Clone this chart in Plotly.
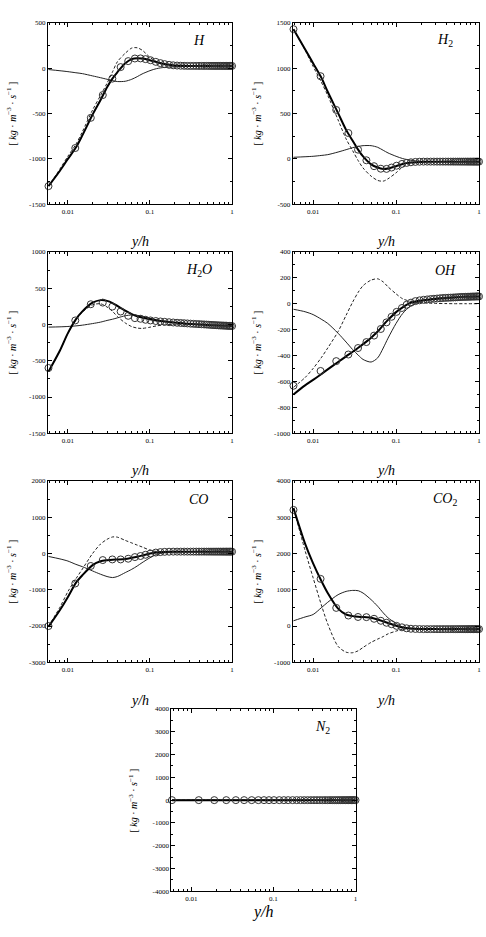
import plotly.graph_objects as go

# ---------------- data ----------------
lx = [0.0058, 0.008, 0.01, 0.0125, 0.015, 0.02, 0.025, 0.03, 0.035, 0.04, 0.05, 0.06,
      0.07, 0.08, 0.1, 0.12, 0.15, 0.2, 0.25, 0.3, 0.4, 0.5, 0.7, 1.0]
cx = [0.0058, 0.0123, 0.019, 0.0266, 0.0348, 0.0439, 0.0543, 0.0655, 0.0767, 0.0882,
      0.1014, 0.1177, 0.134, 0.151, 0.171, 0.192, 0.214, 0.237, 0.261, 0.286, 0.312,
      0.339, 0.367, 0.396, 0.426, 0.457, 0.489, 0.521, 0.554, 0.587, 0.62, 0.654, 0.688,
      0.722, 0.756, 0.79, 0.824, 0.858, 0.892, 0.926, 0.96, 1.0]

H_thick = [-1300, -1130, -1000, -875, -740, -510, -350, -210, -112, -45, 55, 100, 110, 106, 88, 68, 46, 31, 27, 25, 25, 25, 25, 25]
H_dash = [-1300, -1110, -970, -840, -700, -460, -300, -165, -40, 70, 165, 222, 225, 200, 120, 72, 38, 24, 22, 22, 22, 22, 22, 22]
H_thin = [-15, -28, -38, -50, -60, -85, -105, -122, -137, -147, -144, -122, -93, -64, -27, -5, 9, 16, 19, 21, 22, 23, 24, 25]
H_circ = [-1300, -880, -547, -296, -115, 12, 78, 107, 108, 100, 88, 70, 56, 45, 37, 32, 29, 27, 26,
          25, 25, 25, 25, 25, 25, 25, 25, 25, 25, 25, 25, 25, 25, 25, 25, 25, 25, 25, 25, 25, 25, 25]

H2_thick = [1430, 1210, 1055, 900, 740, 505, 320, 200, 100, 27, -60, -95, -110, -105, -80, -55, -40, -33, -31, -30, -30, -30, -30, -30]
H2_dash = [1430, 1200, 1020, 850, 700, 430, 220, 90, -20, -100, -190, -237, -245, -219, -153, -88, -44, -32, -30, -30, -30, -30, -30, -30]
H2_thin = [18, 24, 29, 38, 47, 76, 102, 124, 138, 146, 146, 128, 95, 66, 29, 4, -15, -26, -29, -30, -30, -30, -30, -30]
H2_circ = [1430, 912, 540, 285, 102, -15, -80, -108, -110, -95, -75, -55, -44, -37, -33, -31,
           -30, -30, -30, -30, -30, -30, -30, -30, -30, -30, -30, -30, -30, -30, -30, -30, -30,
           -30, -30, -30, -30, -30, -30, -30, -30, -30]

H2O_thick = [-650, -360, -120, 70, 180, 300, 335, 325, 295, 255, 190, 142, 112, 95, 70, 55, 40, 25, 15, 8, 0, -8, -15, -22]
H2O_dash = [-650, -360, -120, 60, 170, 270, 285, 240, 180, 110, 20, -30, -50, -55, -38, -20, -6, 2, 3, 2, -3, -8, -15, -22]
H2O_thin = [-37, -33, -28, -20, -10, 12, 32, 55, 72, 90, 120, 130, 125, 115, 85, 65, 45, 28, 18, 10, 0, -8, -15, -22]
H2O_circ = [-600, 55, 278, 301, 246, 178, 119, 87, 78, 64, 55, 47, 41, 36, 31, 27, 23, 20, 17, 14, 11,
            8, 6, 4, 2, 0, -2, -4, -6, -8, -10, -11, -13, -14, -15, -16, -17, -18, -19, -20, -21, -22]

OH_thick = [-700, -630, -588, -544, -507, -450, -406, -371, -340, -312, -262, -215, -165, -125, -65, -28, 7, 25, 31, 36, 43, 48, 53, 56]
OH_dash = [-645, -570, -500, -418, -342, -215, -89, 13, 89, 139, 182, 192, 168, 130, 76, 38, 18, 8, 4, 2, 1, 0, 0, 0]
OH_thin = [-43, -62, -84, -119, -152, -228, -296, -354, -397, -430, -450, -418, -342, -266, -152, -76, -18, 18, 35, 43, 48, 50, 53, 56]
OH_circ = [-633, -519, -443, -392, -342, -296, -246, -195, -144, -101, -63, -33, -8, 8, 20, 26, 30, 33,
           36, 38, 40, 42, 44, 45, 46, 47, 48, 49, 50, 51, 52, 52, 53, 53, 54, 54, 55, 55, 55, 56, 56, 56]

CO_thick = [-2020, -1560, -1200, -810, -600, -320, -215, -185, -170, -165, -152, -120, -88, -60, -2, 27, 42, 48, 50, 50, 50, 50, 50, 50]
CO_dash = [-2000, -1480, -1050, -700, -430, 0, 260, 390, 455, 450, 360, 290, 230, 180, 91, 55, 45, 48, 50, 50, 50, 50, 50, 50]
CO_thin = [-82, -150, -209, -300, -364, -482, -573, -636, -664, -636, -527, -436, -345, -255, -118, -27, 18, 45, 50, 50, 50, 50, 50, 50]
CO_circ = [-2000, -827, -345, -182, -164, -164, -145, -100, -70, -36, 0, 25, 38, 45, 48,
           50, 50, 50, 50, 50, 50, 50, 50, 50, 50, 50, 50, 50, 50, 50, 50, 50, 50, 50, 50, 50,
           50, 50, 50, 50, 50, 50]

CO2_thick = [3250, 2273, 1727, 1254, 909, 480, 318, 273, 255, 250, 230, 180, 130, 85, 10, -40, -70, -82, -84, -85, -85, -85, -85, -85]
CO2_dash = [3250, 2080, 1330, 600, 60, -560, -720, -735, -680, -590, -450, -360, -290, -215, -140, -85, -75, -80, -84, -85, -85, -85, -85, -85]
CO2_thin = [145, 250, 318, 500, 655, 864, 955, 982, 973, 909, 727, 545, 364, 227, 73, -27, -64, -80, -84, -85, -85, -85, -85, -85]
CO2_circ = [3200, 1300, 500, 290, 250, 245, 200, 145, 90, 50, 5, -35, -62, -75, -80, -83,
            -85, -85, -85, -85, -85, -85, -85, -85, -85, -85, -85, -85, -85, -85, -85, -85,
            -85, -85, -85, -85, -85, -85, -85, -85, -85, -85]

N2_thick = [0, 0, 0, 0, 0, 0, 0, 0, 0, 0, 0, 0, 0, 0, 0, 0, 0, 0, 0, 0, 0, 0, 0, 0]
N2_dash = [0, 0, 0, 0, 0, 0, 0, 0, 0, 0, 0, 0, 0, 0, 0, 0, 0, 0, 0, 0, 0, 0, 0, 0]
N2_thin = [0, 0, 0, 0, 0, 0, 0, 0, 0, 0, 0, 0, 0, 0, 0, 0, 0, 0, 0, 0, 0, 0, 0, 0]
N2_circ = [0, 0, 0, 0, 0, 0, 0, 0, 0, 0, 0, 0, 0, 0, 0, 0, 0, 0, 0, 0, 0, 0, 0, 0, 0, 0, 0,
           0, 0, 0, 0, 0, 0, 0, 0, 0, 0, 0, 0, 0, 0, 0]

species_labels = ["<i>H</i>", "<i>H</i><sub>2</sub>", "<i>H</i><sub>2</sub><i>O</i>", "<i>OH</i>",
                  "<i>CO</i>", "<i>CO</i><sub>2</sub>", "<i>N</i><sub>2</sub>"]
y_ticks = [[-1500, -1000, -500, 0, 500],
           [-500, 0, 500, 1000, 1500],
           [-1500, -1000, -500, 0, 500, 1000],
           [-1000, -800, -600, -400, -200, 0, 200, 400],
           [-3000, -2000, -1000, 0, 1000, 2000],
           [-1000, 0, 1000, 2000, 3000, 4000],
           [-4000, -3000, -2000, -1000, 0, 1000, 2000, 3000, 4000]]
x_ticks = [0.01, 0.1, 1]
x_ticktext = ["0.01", "0.1", "1"]

series = [
    (H_thick, H_dash, H_thin, H_circ),
    (H2_thick, H2_dash, H2_thin, H2_circ),
    (H2O_thick, H2O_dash, H2O_thin, H2O_circ),
    (OH_thick, OH_dash, OH_thin, OH_circ),
    (CO_thick, CO_dash, CO_thin, CO_circ),
    (CO2_thick, CO2_dash, CO2_thin, CO2_circ),
    (N2_thick, N2_dash, N2_thin, N2_circ),
]
for s in series:
    assert len(s[0]) == len(lx) and len(s[1]) == len(lx) and len(s[2]) == len(lx)
    assert len(s[3]) == len(cx), len(s[3])

# ---------------- layout (pixel boxes) ----------------
W, Hgt = 486, 937
boxes = [  # left, right, top, bottom in px
    (48, 233, 19, 202), (294, 481, 19, 202),
    (48, 233, 250, 433), (294, 481, 250, 433),
    (48, 233, 481, 664), (294, 481, 481, 664),
    (172, 357, 711, 895),
]
xtitle_y = [240, 240, 471, 471, 702, 702, 916]
xtitle_size = [14, 14, 14, 14, 14, 14, 16]
ytitle_x = [11, 257, 11, 257, 11, 257, 134]

SERIF = "Liberation Serif, Times New Roman, serif"
minor_x = [0.006, 0.007, 0.008, 0.009, 0.02, 0.03, 0.04, 0.05, 0.06, 0.07, 0.08, 0.09,
           0.2, 0.3, 0.4, 0.5, 0.6, 0.7, 0.8, 0.9]

fig = go.Figure()
layout = dict(width=W, height=Hgt, margin=dict(l=0, r=0, t=0, b=0),
              paper_bgcolor="white", plot_bgcolor="white", showlegend=False)
annotations = []

for i, (s, box) in enumerate(zip(series, boxes)):
    n = i + 1
    xa = "x" if n == 1 else f"x{n}"
    ya = "y" if n == 1 else f"y{n}"
    thick, dash, thin, circ = s
    fig.add_trace(go.Scatter(x=lx, y=thin, xaxis=xa, yaxis=ya, mode="lines",
                             line=dict(color="#222", width=1, shape="spline", smoothing=0.8)))
    fig.add_trace(go.Scatter(x=lx, y=dash, xaxis=xa, yaxis=ya, mode="lines",
                             line=dict(color="#222", width=1, dash="3px,2px", shape="spline", smoothing=0.8)))
    fig.add_trace(go.Scatter(x=lx, y=thick, xaxis=xa, yaxis=ya, mode="lines",
                             line=dict(color="black", width=2, shape="spline", smoothing=0.8)))
    fig.add_trace(go.Scatter(x=cx, y=circ, xaxis=xa, yaxis=ya, mode="markers", cliponaxis=False,
                             marker=dict(symbol="circle-open", size=7, color="#333",
                                         line=dict(width=1, color="#333"))))
    l, r, t, b = box
    yt = y_ticks[i]
    step = yt[1] - yt[0]
    xkey = "xaxis" if n == 1 else f"xaxis{n}"
    ykey = "yaxis" if n == 1 else f"yaxis{n}"
    layout[xkey] = dict(domain=[l / W, r / W], anchor=ya, type="log",
                        range=[-2.245, 0.0], tickmode="array", tickvals=x_ticks,
                        ticktext=x_ticktext, ticks="inside", ticklen=4, tickwidth=1,
                        tickcolor="black", mirror="allticks", showline=True,
                        linecolor="black", linewidth=1, showgrid=False, zeroline=False,
                        tickfont=dict(family=SERIF, size=7, color="black"),
                        minor=dict(tickmode="array", tickvals=minor_x, ticks="inside",
                                   ticklen=2, tickcolor="black", showgrid=False))
    layout[ykey] = dict(domain=[1 - b / Hgt, 1 - t / Hgt], anchor=xa,
                        range=[yt[0], yt[-1]], tickmode="array", tickvals=yt,
                        ticktext=[str(v) for v in yt], ticks="inside", ticklen=4,
                        tickwidth=1, tickcolor="black", mirror="allticks", showline=True,
                        linecolor="black", linewidth=1, showgrid=False, zeroline=False,
                        tickfont=dict(family=SERIF, size=7, color="black"),
                        minor=dict(dtick=step / 2, tick0=yt[0], ticks="inside", ticklen=2,
                                   tickcolor="black", showgrid=False))
    # species label
    annotations.append(dict(text=species_labels[i], xref=f"{xa} domain", yref=f"{ya} domain",
                            x=0.82, y=0.9, xanchor="center", yanchor="middle", showarrow=False,
                            font=dict(family=SERIF, size=14, color="black")))
    # x title
    annotations.append(dict(text="<i>y/h</i>", xref="paper", yref="paper",
                            x=(l + r) / 2 / W, y=1 - xtitle_y[i] / Hgt, xanchor="center",
                            yanchor="middle", showarrow=False,
                            font=dict(family=SERIF, size=xtitle_size[i], color="black")))
    # y title
    annotations.append(dict(text="[ <i>kg</i> · <i>m</i><sup>−3</sup> · <i>s</i><sup>−1</sup> ]",
                            xref="paper", yref="paper", x=ytitle_x[i] / W,
                            y=1 - (t + b) / 2 / Hgt, xanchor="center", yanchor="middle",
                            textangle=-90, showarrow=False,
                            font=dict(family=SERIF, size=10, color="black")))

layout["annotations"] = annotations
fig.update_layout(**layout)
fig.write_html("out.html")
